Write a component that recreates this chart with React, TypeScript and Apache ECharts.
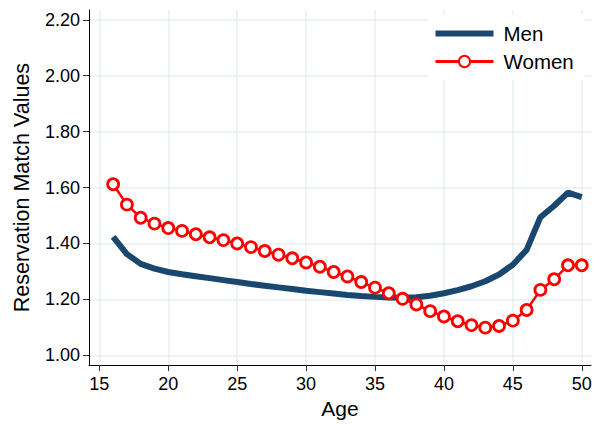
import React, { useEffect, useRef } from "react";
import * as echarts from "echarts";

const ages = [16, 17, 18, 19, 20, 21, 22, 23, 24, 25, 26, 27, 28, 29, 30, 31, 32, 33, 34, 35, 36, 37, 38, 39, 40, 41, 42, 43, 44, 45, 46, 47, 48, 49, 50];
const menValues = [1.424, 1.362, 1.327, 1.31, 1.298, 1.29, 1.283, 1.276, 1.269, 1.262, 1.255, 1.249, 1.243, 1.237, 1.231, 1.226, 1.221, 1.216, 1.212, 1.209, 1.207, 1.206, 1.208, 1.213, 1.222, 1.233, 1.247, 1.265, 1.289, 1.324, 1.377, 1.494, 1.535, 1.582, 1.566];
const womenValues = [1.612, 1.539, 1.492, 1.471, 1.455, 1.445, 1.433, 1.422, 1.412, 1.4, 1.387, 1.373, 1.36, 1.347, 1.332, 1.317, 1.298, 1.282, 1.262, 1.242, 1.222, 1.202, 1.182, 1.158, 1.139, 1.122, 1.108, 1.099, 1.105, 1.124, 1.162, 1.234, 1.272, 1.322, 1.322];
const xTicks = [15, 20, 25, 30, 35, 40, 45, 50];
const yTicks = [1.0, 1.2, 1.4, 1.6, 1.8, 2.0, 2.2];

const FONT = '"Liberation Sans", Arial, Helvetica, sans-serif';
const NAVY = "#1a476f";
const RED = "#ff0000";
const GRID = "#e8f0f2";

export default function App() {
  const ref = useRef<HTMLDivElement>(null);
  useEffect(() => {
    if (!ref.current) return;
    const chart = echarts.init(ref.current, null, { renderer: "svg" });
    chart.setOption({
      animation: false,
      backgroundColor: "#ffffff",
      textStyle: { fontFamily: FONT },
      grid: { left: 89, right: 17, top: 10, bottom: 54, containLabel: false },
      legend: {
        orient: "vertical",
        left: 428,
        top: 15,
        backgroundColor: "#ffffff",
        padding: [8, 10, 8, 6],
        itemWidth: 58,
        itemHeight: 14,
        itemGap: 7,
        textStyle: { fontFamily: FONT, fontSize: 20.5, color: "#000", lineHeight: 20, padding: [0, 0, 0, 5] },
        data: [
          { name: "Men", icon: "path://M0,0 H58 V6 H0 Z", itemStyle: { color: NAVY } },
          { name: "Women", lineStyle: { width: 3, color: RED } },
        ],
      },
      xAxis: {
        type: "value",
        min: 14.25,
        max: 50.67,
        name: "Age",
        nameLocation: "middle",
        nameGap: 27,
        nameTextStyle: { fontFamily: FONT, fontSize: 21, color: "#000" },
        axisLine: { show: true, onZero: false, lineStyle: { color: "#000", width: 1 } },
        axisTick: { show: true, length: 6, customValues: xTicks, lineStyle: { color: "#333" } },
        axisLabel: { customValues: xTicks, margin: 10, fontSize: 18, color: "#000", fontFamily: FONT },
        splitLine: { show: true, lineStyle: { color: GRID, width: 1.5 } },
      },
      yAxis: {
        type: "value",
        min: 0.965,
        max: 2.235,
        name: "Reservation Match Values",
        nameLocation: "middle",
        nameGap: 56,
        nameTextStyle: { fontFamily: FONT, fontSize: 21.5, color: "#000" },
        axisLine: { show: true, onZero: false, lineStyle: { color: "#000", width: 1 } },
        axisTick: { show: true, length: 6, customValues: yTicks, lineStyle: { color: "#333" } },
        axisLabel: {
          customValues: yTicks,
          margin: 9,
          fontSize: 18,
          color: "#000",
          fontFamily: FONT,
          formatter: (v: number) => v.toFixed(2),
        },
        splitLine: { show: true, lineStyle: { color: GRID, width: 1.5 } },
      },
      series: [
        {
          name: "Men",
          type: "line",
          data: ages.map((a, i) => [a, menValues[i]]),
          showSymbol: false,
          symbol: "none",
          lineStyle: { color: NAVY, width: 6 },
          itemStyle: { color: NAVY },
          z: 2,
        },
        {
          name: "Women",
          type: "line",
          data: ages.map((a, i) => [a, womenValues[i]]),
          symbol: "circle",
          symbolSize: 11,
          lineStyle: { color: RED, width: 2.5 },
          itemStyle: { color: "#ffffff", borderColor: RED, borderWidth: 2.8 },
          z: 3,
        },
      ],
    });
    return () => chart.dispose();
  }, []);
  return <div ref={ref} style={{ position: "fixed", left: 0, top: 0, width: 608, height: 424 }} />;
}
